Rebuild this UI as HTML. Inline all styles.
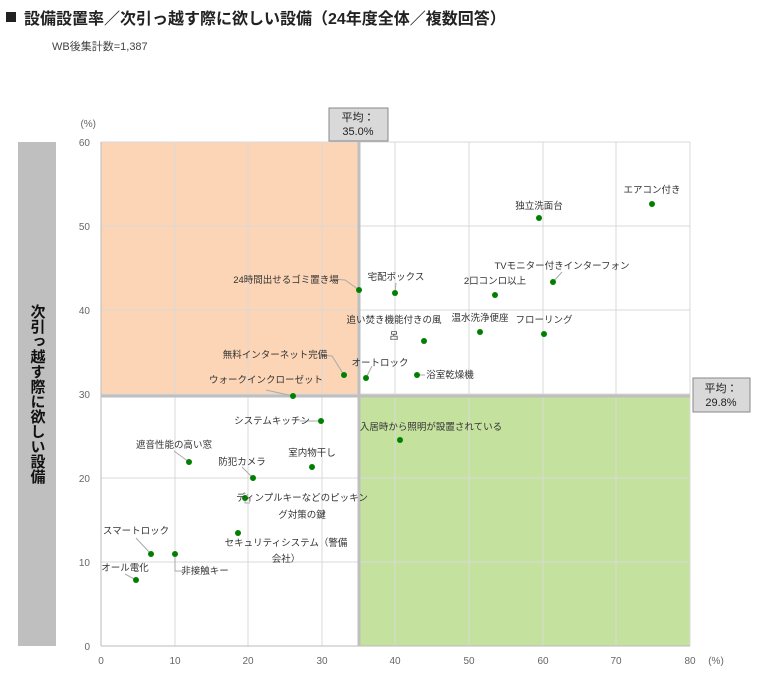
<!DOCTYPE html>
<html><head><meta charset="utf-8"><style>
body{margin:0;background:#fff;width:767px;height:680px;overflow:hidden;font-family:"Liberation Sans","Noto Sans CJK JP",sans-serif}
</style></head><body>
<svg width="767" height="680" xmlns="http://www.w3.org/2000/svg" font-family="Liberation Sans, Noto Sans CJK JP, sans-serif">
<rect x="6" y="12" width="10" height="10" fill="#222"/>
<text x="24" y="24" font-size="16" font-weight="bold" fill="#222">設備設置率／次引っ越す際に欲しい設備（24年度全体／複数回答）</text>
<text x="52" y="50" font-size="11" fill="#444">WB後集計数=1,387</text>
<rect x="18" y="142" width="38" height="504" fill="#bfbfbf"/>
<text x="37" y="394" font-size="15" font-weight="bold" fill="#111" writing-mode="tb" text-anchor="middle" style="writing-mode:vertical-rl">次引っ越す際に欲しい設備</text>
<rect x="101" y="142" width="258" height="254" fill="#fbd5b5"/>
<rect x="359" y="396" width="331" height="250" fill="#c4e19e"/>
<g stroke="#d9d9d9" stroke-width="1">
<line x1="101" y1="142" x2="690" y2="142"/><line x1="101" y1="226" x2="690" y2="226"/><line x1="101" y1="310" x2="690" y2="310"/><line x1="101" y1="394" x2="690" y2="394"/><line x1="101" y1="478" x2="690" y2="478"/><line x1="101" y1="562" x2="690" y2="562"/>
<line x1="175" y1="142" x2="175" y2="646"/><line x1="248" y1="142" x2="248" y2="646"/><line x1="322" y1="142" x2="322" y2="646"/><line x1="395" y1="142" x2="395" y2="646"/><line x1="469" y1="142" x2="469" y2="646"/><line x1="543" y1="142" x2="543" y2="646"/><line x1="616" y1="142" x2="616" y2="646"/><line x1="690" y1="142" x2="690" y2="646"/>
</g>
<line x1="101" y1="142" x2="101" y2="646" stroke="#bbb"/>
<line x1="101" y1="646" x2="690" y2="646" stroke="#bbb"/>
<line x1="359" y1="142" x2="359" y2="646" stroke="#bfbfbf" stroke-width="3"/>
<line x1="101" y1="396" x2="690" y2="396" stroke="#bfbfbf" stroke-width="3"/>
<g font-size="10" fill="#666" text-anchor="end">
<text x="90" y="146">60</text><text x="90" y="230">50</text><text x="90" y="314">40</text><text x="90" y="398">30</text><text x="90" y="482">20</text><text x="90" y="566">10</text><text x="90" y="650">0</text>
<text x="96" y="127">(%)</text>
</g>
<g font-size="10" fill="#666" text-anchor="middle">
<text x="101" y="664">0</text><text x="175" y="664">10</text><text x="248" y="664">20</text><text x="322" y="664">30</text><text x="395" y="664">40</text><text x="469" y="664">50</text><text x="543" y="664">60</text><text x="616" y="664">70</text><text x="690" y="664">80</text><text x="716" y="664">(%)</text>
</g>
<rect x="329" y="108" width="59" height="33" fill="#d9d9d9" stroke="#888"/>
<text x="358" y="121" font-size="11" text-anchor="middle" fill="#222">平均：</text>
<text x="358" y="135" font-size="11" text-anchor="middle" fill="#222">35.0%</text>
<rect x="693" y="378" width="57" height="34" fill="#d9d9d9" stroke="#888"/>
<text x="721" y="392" font-size="11" text-anchor="middle" fill="#222">平均：</text>
<text x="721" y="406" font-size="11" text-anchor="middle" fill="#222">29.8%</text>
<g stroke="#aaa" fill="none" stroke-width="1">
<polyline points="333,279 345,280 359,290"/><polyline points="320,355 332,356 344,375"/><polyline points="266,390 293,396"/><polyline points="300,421 321,421"/><polyline points="372,366 366,378"/><polyline points="425,375 417,375"/><polyline points="174,451 189,462"/><polyline points="242,467 253,478"/><polyline points="248,494 245,498 245,503 250,503"/><polyline points="136,538 151,554"/><polyline points="175,554 175,571 183,571"/><polyline points="125,574 136,580"/><polyline points="562,272 553,282"/><polyline points="396,283 395,293"/>
</g>
<g fill="#008000">
<circle cx="652" cy="204" r="3"/><circle cx="539" cy="218" r="3"/><circle cx="553" cy="282" r="3"/><circle cx="495" cy="295" r="3"/><circle cx="395" cy="293" r="3"/><circle cx="359" cy="290" r="3"/><circle cx="424" cy="341" r="3"/><circle cx="480" cy="332" r="3"/><circle cx="544" cy="334" r="3"/><circle cx="344" cy="375" r="3"/><circle cx="366" cy="378" r="3"/><circle cx="417" cy="375" r="3"/><circle cx="293" cy="396" r="3"/><circle cx="321" cy="421" r="3"/><circle cx="400" cy="440" r="3"/><circle cx="189" cy="462" r="3"/><circle cx="253" cy="478" r="3"/><circle cx="312" cy="467" r="3"/><circle cx="245" cy="498" r="3"/><circle cx="238" cy="533" r="3"/><circle cx="151" cy="554" r="3"/><circle cx="175" cy="554" r="3"/><circle cx="136" cy="580" r="3"/>
</g>
<g font-size="9.5" fill="#333" text-anchor="middle">
<text x="652" y="193">エアコン付き</text>
<text x="539" y="209">独立洗面台</text>
<text x="562" y="269">TVモニター付きインターフォン</text>
<text x="495" y="284">2口コンロ以上</text>
<text x="396" y="280">宅配ボックス</text>
<text x="286" y="283">24時間出せるゴミ置き場</text>
<text x="394" y="323">追い焚き機能付きの風</text>
<text x="394" y="339">呂</text>
<text x="480" y="321">温水洗浄便座</text>
<text x="544" y="323">フローリング</text>
<text x="275" y="358">無料インターネット完備</text>
<text x="380" y="366">オートロック</text>
<text x="450" y="378">浴室乾燥機</text>
<text x="266" y="383">ウォークインクローゼット</text>
<text x="272" y="424">システムキッチン</text>
<text x="431" y="430">入居時から照明が設置されている</text>
<text x="174" y="448">遮音性能の高い窓</text>
<text x="242" y="465">防犯カメラ</text>
<text x="312" y="456">室内物干し</text>
<text x="302" y="501">ディンプルキーなどのピッキン</text>
<text x="302" y="518">グ対策の鍵</text>
<text x="286" y="546">セキュリティシステム（警備</text>
<text x="286" y="562">会社）</text>
<text x="136" y="534">スマートロック</text>
<text x="205" y="574">非接触キー</text>
<text x="125" y="571">オール電化</text>
</g>
</svg>
</body></html>
